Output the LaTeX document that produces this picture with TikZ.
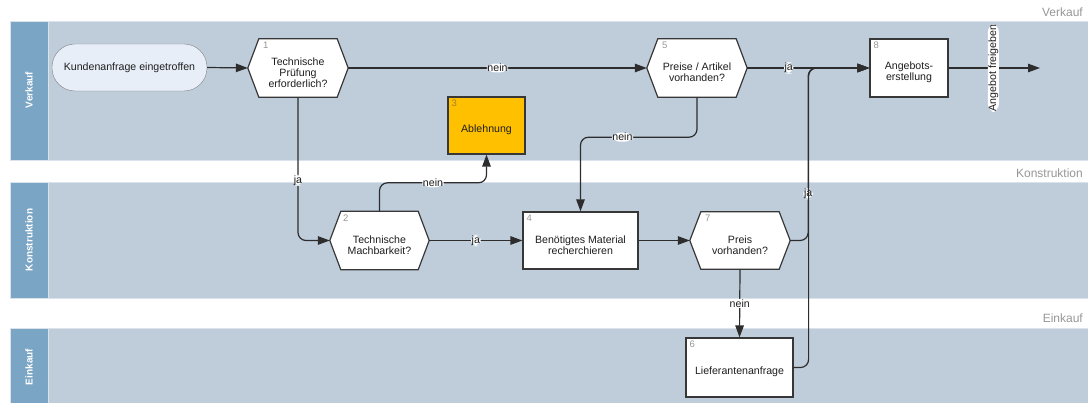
\documentclass[tikz,border=0pt]{standalone}
\usepackage{fontspec}
\setmainfont{Liberation Sans}
\usetikzlibrary{arrows.meta}

\definecolor{lanefill}{RGB}{191,205,219}
\definecolor{lanehead}{RGB}{122,165,197}
\definecolor{laneedge}{RGB}{218,227,235}
\definecolor{startfill}{RGB}{232,238,248}
\definecolor{rejectfill}{RGB}{255,192,0}
\definecolor{numgray}{RGB}{150,150,150}
\definecolor{numdark}{RGB}{165,130,45}
\definecolor{flowline}{RGB}{45,45,45}
\definecolor{inktext}{RGB}{30,30,30}
\definecolor{boxline}{RGB}{55,55,55}

\newcommand{\flowfont}{\fontsize{10.6}{11}\selectfont}
% hexagonal decision outline drawn on the anchors of a rectangle node
\newcommand{\hexoutline}[1]{%
  \draw[hexline] ([xshift=11pt]#1.north west) -- ([xshift=-11pt]#1.north east)
    -- (#1.east) -- ([xshift=-11pt]#1.south east) -- ([xshift=11pt]#1.south west)
    -- (#1.west) -- cycle;}

\tikzset{
  lanebody/.style={fill=lanefill, draw=laneedge, line width=0.8pt},
  lanebar/.style={fill=lanehead, draw=laneedge, line width=0.8pt},
  lanename/.style={rotate=90, text=white, font=\fontsize{10}{12}\selectfont\bfseries},
  lanetitle/.style={anchor=base east, inner sep=0pt, text=numgray, font=\fontsize{12}{14}\selectfont},
  startbox/.style={draw=gray, fill=startfill, rounded corners=23pt, inner sep=0pt,
    text=inktext, font=\flowfont},
  taskbox/.style={draw=boxline, fill=white, line width=1.2pt, inner sep=0pt},
  rejectbox/.style={taskbox, fill=rejectfill},
  decision/.style={inner sep=0pt},
  hexline/.style={draw=boxline, fill=white, line width=1.2pt, line join=miter},
  nodetext/.style={align=center, text=inktext, font=\flowfont, inner sep=0pt},
  stepno/.style={anchor=north west, inner sep=0pt, text=numgray, font=\fontsize{9.5}{10}\selectfont},
  flow/.style={draw=flowline, line width=1.2pt, rounded corners=8pt,
    -{Triangle[length=12pt,width=8.5pt]}},
  lbl/.style={fill=white, inner sep=0.6pt, text=inktext, font=\flowfont},
}

\begin{document}
\begin{tikzpicture}[x=1pt,y=-1pt]
\useasboundingbox (0,0) rectangle (1088,403);

% ---------- swimlanes ----------
\path[lanebody] (10,21) rectangle (1090,160);
\path[lanebar]  (10,21) rectangle (48,160);
\node[lanename] (lnV) at (29,90) {Verkauf};
\node[lanetitle] (ltV) at (1083,17) {Verkauf};

\path[lanebody] (10,182) rectangle (1090,298);
\path[lanebar]  (10,182) rectangle (48,298);
\node[lanename] (lnK) at (29,240) {Konstruktion};
\node[lanetitle] (ltK) at (1083,178) {Konstruktion};

\path[lanebody] (10,328) rectangle (1090,406);
\path[lanebar]  (10,328) rectangle (48,406);
\node[lanename] (lnE) at (29,367) {Einkauf};
\node[lanetitle] (ltE) at (1083,323) {Einkauf};

% ---------- start event ----------
\node[startbox, minimum width=155pt, minimum height=47pt] (start) at (129.5,67.5)
  {Kundenanfrage eingetroffen};

% ---------- decisions ----------
\node[decision, minimum width=100pt, minimum height=58pt] (h1) at (298,68) {};
\hexoutline{h1}
\node[nodetext] (h1t) at ([yshift=-4.5pt]h1.center) {Technische\\Prüfung\\erforderlich?};
\node[stepno] (h1n) at ([xshift=15pt,yshift=-3pt]h1.north west) {1};

\node[decision, minimum width=100pt, minimum height=58pt] (h5) at (697,68) {};
\hexoutline{h5}
\node[nodetext] (h5t) at ([yshift=-4.5pt]h5.center) {Preise / Artikel\\vorhanden?};
\node[stepno] (h5n) at ([xshift=15pt,yshift=-3pt]h5.north west) {5};

\node[decision, minimum width=99pt, minimum height=58pt] (h2) at (379.5,240.5) {};
\hexoutline{h2}
\node[nodetext] (h2t) at ([yshift=-4.5pt]h2.center) {Technische\\Machbarkeit?};
\node[stepno] (h2n) at ([xshift=13pt,yshift=-3pt]h2.north west) {2};

\node[decision, minimum width=100pt, minimum height=57pt] (h7) at (740,240.5) {};
\hexoutline{h7}
\node[nodetext] (h7t) at ([yshift=-4.5pt]h7.center) {Preis\\vorhanden?};
\node[stepno] (h7n) at ([xshift=15pt,yshift=-3pt]h7.north west) {7};

% ---------- tasks ----------
\node[taskbox, minimum width=78pt, minimum height=58pt] (b8) at (909,68) {};
\node[nodetext] (b8t) at ([yshift=-4.5pt]b8.center) {Angebots-\\erstellung};
\node[stepno] (b8n) at ([xshift=4pt,yshift=-3pt]b8.north west) {8};

\node[rejectbox, minimum width=77pt, minimum height=57pt] (b3) at (486.5,125.5) {};
\node[nodetext] (b3t) at ([yshift=-4pt]b3.center) {Ablehnung};
\node[stepno, text=numdark] (b3n) at ([xshift=4pt,yshift=-3.5pt]b3.north west) {3};

\node[taskbox, minimum width=115pt, minimum height=57pt] (b4) at (580.5,240.5) {};
\node[nodetext] (b4t) at ([yshift=-4.5pt]b4.center) {Benötigtes Material\\recherchieren};
\node[stepno] (b4n) at ([xshift=4pt,yshift=-3pt]b4.north west) {4};

\node[taskbox, minimum width=107pt, minimum height=59pt] (b6) at (739.5,367.5) {};
\node[nodetext] (b6t) at ([yshift=-4pt]b6.center) {Lieferantenanfrage};
\node[stepno] (b6n) at ([xshift=4pt,yshift=-3pt]b6.north west) {6};

\coordinate (out) at (1040,68);

% ---------- connectors ----------
\draw[flow] (start.east) -- (h1.west);
\draw[flow] (h1.east) -- node[lbl] (l1) {nein} (h5.west);
\draw[flow] (h5.east) -- node[lbl, pos=0.34] (l2) {ja} (b8.west);
\draw[flow] (b8.east) -- node[lbl, rotate=90, pos=0.49] (l3) {Angebot freigeben} (out);
\draw[flow] (h1.south) |- node[lbl, pos=0.29] (l4) {ja} (h2.west);
\draw[flow] (h2.north) -- ++(0,-28.5) -| node[lbl, pos=0.25] (l5) {nein} (b3.south);
\draw[flow] (h2.east) -- node[lbl] (l6) {ja} (b4.west);
\draw[flow] (h5.south) -- ++(0,40) -| node[lbl, pos=0.32] (l7) {nein} (b4.north);
\draw[flow] (b4.east) -- (h7.west);
\draw[flow] (h7.east) -- ++(18,0) |- node[lbl, pos=0.135] (l8) {ja} (b8.west);
\draw[flow] (b6.east) -- ++(15,0) |- (b8.west);
\draw[flow] (h7.south) -- node[lbl] (l9) {nein} (b6.north);

\end{tikzpicture}
\end{document}
